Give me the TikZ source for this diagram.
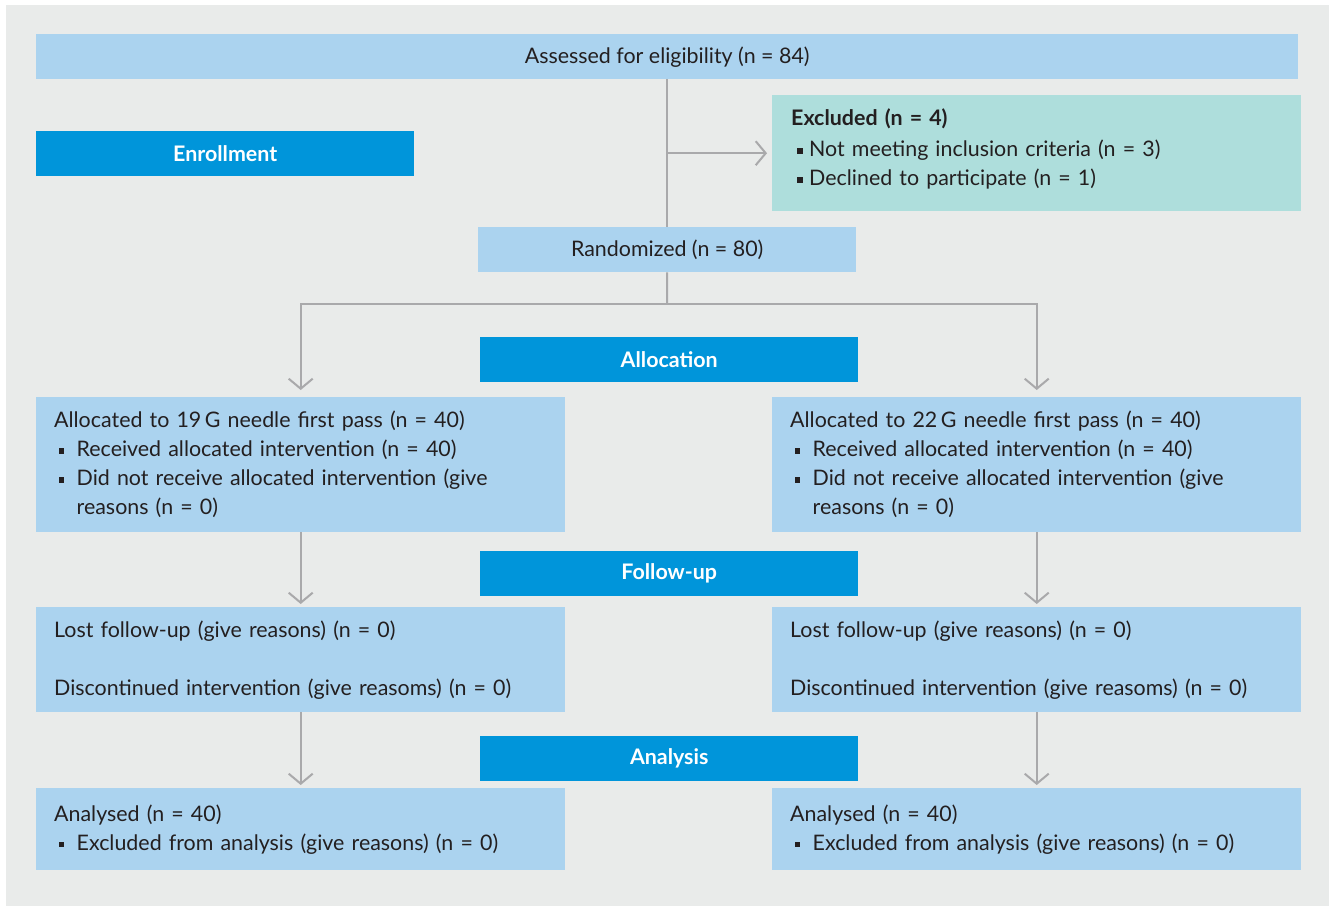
\documentclass[tikz,border=0pt]{standalone}
\usepackage{fontspec}
\setmainfont{Lato}
\usetikzlibrary{arrows.meta}

\definecolor{bggray}{HTML}{E9EBEA}
\definecolor{lightblue}{HTML}{ABD3EF}
\definecolor{headblue}{HTML}{0095DA}
\definecolor{teal}{HTML}{AEDEDC}
\definecolor{linegray}{HTML}{A9A9AB}
\definecolor{textdark}{HTML}{231F20}

\newcommand{\sq}{\raisebox{3pt}{\rule{5.5pt}{5.5pt}}}
\newcommand{\bul}{\hspace*{4.5pt}\sq\hspace*{12.5pt}}
\newcommand{\ind}{\hspace*{22.5pt}}
\newcommand{\xbul}{\hspace*{6pt}\sq\hspace*{6.5pt}}

\begin{document}
\begin{tikzpicture}[x=1pt,y=-1pt,
	box/.style={fill=lightblue,anchor=north west,inner sep=0pt,text=textdark,
		font=\fontsize{21.4}{29}\selectfont},
	head/.style={fill=headblue,anchor=north west,inner sep=0pt,text=white,
		minimum width=378pt,minimum height=45pt,font=\fontsize{21.4}{29}\selectfont\bfseries},
	link/.style={draw=linegray,line width=2pt},
	arr/.style={link,-{Straight Barb[length=10pt,width=24pt,line width=2pt]}}]
	\useasboundingbox (0,0) rectangle (1332,907);
	\fill[white] (0,0) rectangle (1332,907);
	\fill[bggray] (6,5) rectangle (1329,906);
	% enrollment
	\node[box,minimum width=1262pt,minimum height=45pt] (assess) at (36,34) {Assessed for eligibility (n = 84)};
	\node[head] (enroll) at (36,131) {Enrollment};
	\node[box,fill=teal,minimum width=529pt,minimum height=116pt,align=left,text width=491pt] (excl) at (772,95)
		{\textbf{Excluded (n = 4)}\\[2pt]\xbul Not meeting inclusion criteria (n = 3)\\\xbul Declined to participate (n = 1)\\[-17pt]\mbox{}};
	\node[box,minimum width=378pt,minimum height=45pt] (rand) at (478,227) {Randomized (n = 80)};
	\coordinate (split) at (667,304);
	% allocation
	\node[head] (alloc) at (480,337) {Allocation};
	\node[box,minimum width=529pt,minimum height=135pt,align=left,text width=493pt] (allocL) at (36,397)
		{Allocated to 19\,G needle first pass (n = 40)\\\bul Received allocated intervention (n = 40)\\
		\bul Did not receive allocated intervention (give\\\ind reasons (n = 0)};
	\node[box,minimum width=529pt,minimum height=135pt,align=left,text width=493pt] (allocR) at (772,397)
		{Allocated to 22\,G needle first pass (n = 40)\\\bul Received allocated intervention (n = 40)\\
		\bul Did not receive allocated intervention (give\\\ind reasons (n = 0)};
	% follow-up
	\node[head] (follow) at (480,551) {Follow-up};
	\node[box,minimum width=529pt,minimum height=105pt,align=left,text width=493pt] (lostL) at (36,607)
		{Lost follow-up (give reasons) (n = 0)\\[29pt]Discontinued intervention (give reasoms) (n = 0)};
	\node[box,minimum width=529pt,minimum height=105pt,align=left,text width=493pt] (lostR) at (772,607)
		{Lost follow-up (give reasons) (n = 0)\\[29pt]Discontinued intervention (give reasoms) (n = 0)};
	% analysis
	\node[head] (analys) at (480,736) {Analysis};
	\node[box,minimum width=529pt,minimum height=82pt,align=left,text width=493pt] (anaL) at (36,788)
		{Analysed (n = 40)\\\bul Excluded from analysis (give reasons) (n = 0)};
	\node[box,minimum width=529pt,minimum height=82pt,align=left,text width=493pt] (anaR) at (772,788)
		{Analysed (n = 40)\\\bul Excluded from analysis (give reasons) (n = 0)};
	% connectors
	\draw[link] (assess.south) -- (rand.north);
	\draw[arr,shorten >=5pt] (assess.south |- excl.west) -- (excl.west);
	\draw[link] (rand.south) -- (split);
	\draw[arr,shorten >=7pt] (split) -| (allocL.north);
	\draw[arr,shorten >=7pt] (split) -| (allocR.north);
	\draw[arr,shorten >=3pt] (allocL.south) -- (lostL.north);
	\draw[arr,shorten >=3pt] (allocR.south) -- (lostR.north);
	\draw[arr,shorten >=3pt] (lostL.south) -- (anaL.north);
	\draw[arr,shorten >=3pt] (lostR.south) -- (anaR.north);
\end{tikzpicture}
\end{document}
